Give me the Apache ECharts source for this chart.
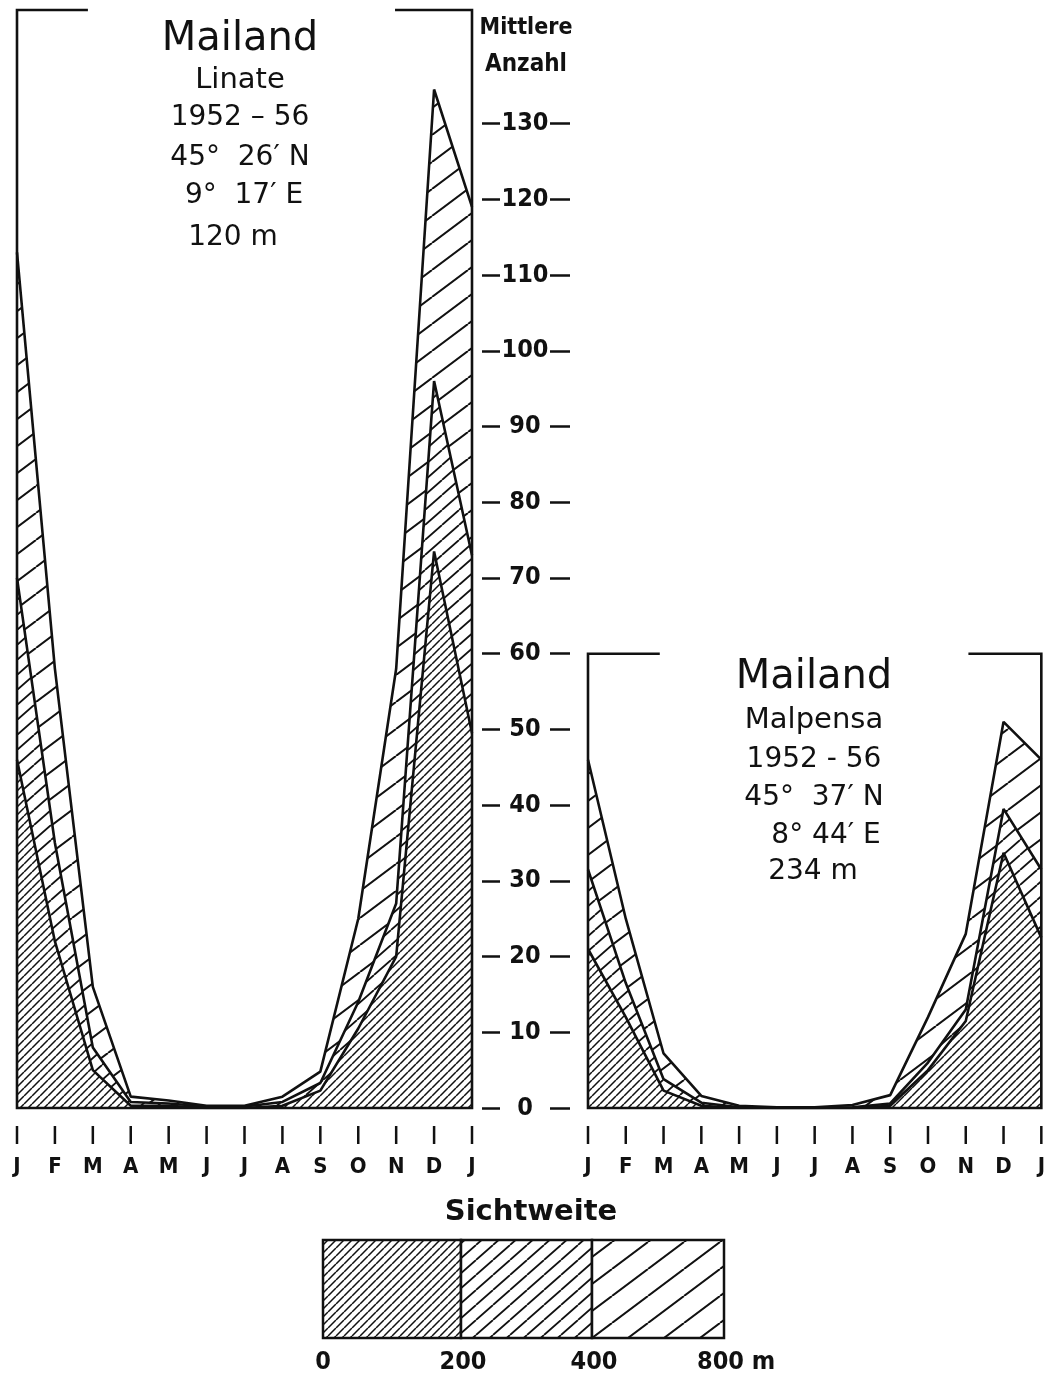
<!DOCTYPE html>
<html><head><meta charset="utf-8">
<script src="https://cdn.jsdelivr.net/npm/echarts@6/dist/echarts.min.js"></script>
<style>html,body{margin:0;padding:0;background:#fff}#c{width:1048px;height:1375px}</style>
</head><body><div id="c"></div>
<script>
// ---- data ----
const months = ['J','F','M','A','M','J','J','A','S','O','N','D','J'];
const yTicks = [0,10,20,30,40,50,60,70,80,90,100,110,120,130];
// Linate: mean number of days with visibility below 800 m / 400 m / 200 m
const linate800 = [113, 58, 16, 1.5, 1.0, 0.3, 0.3, 1.5, 4.8, 25, 58, 134.5, 119];
const linate400 = [70, 35, 8, 0.8, 0.6, 0.2, 0.2, 0.8, 3.3, 14, 27, 96, 73];
const linate200 = [46, 22, 5, 0.3, 0.3, 0, 0, 0.3, 2.3, 10.5, 20, 73.5, 49.5];
// Malpensa
const malp800 = [46, 25, 7.2, 1.6, 0.3, 0.1, 0.1, 0.4, 1.7, 12, 23, 51, 46];
const malp400 = [31.5, 16.5, 3.8, 0.7, 0.1, 0, 0, 0.1, 0.6, 6, 13, 39.5, 31.5];
const malp200 = [21, 12, 2.3, 0.3, 0, 0, 0, 0, 0.3, 5, 11.5, 33.7, 22.5];
const linateTitle = ['Mailand', 'Linate', '1952 \u2013 56', '45\u00b0  26\u2032 N', '9\u00b0  17\u2032 E', '120 m'];
const malpTitle = ['Mailand', 'Malpensa', '1952 - 56', '45\u00b0  37\u2032 N', '8\u00b0 44\u2032 E', '234 m'];
const axisTitle = ['Mittlere', 'Anzahl'];
const legendTitle = 'Sichtweite';
const legendLabels = ['0', '200', '400', '800 m'];

// ---- styling ----
const INK = '#111';
const COND = '"Liberation Sans Narrow","DejaVu Sans Condensed","DejaVu Sans",sans-serif';
const SANS = '"DejaVu Sans","Noto Sans",sans-serif';

function hatch(w, h, lw) {
  const c = document.createElement('canvas');
  c.width = w; c.height = h;
  const g = c.getContext('2d');
  g.fillStyle = '#fff'; g.fillRect(0, 0, w, h);
  g.strokeStyle = INK; g.lineWidth = lw;
  g.beginPath();
  for (const dx of [-w, 0, w]) { g.moveTo(dx, h); g.lineTo(dx + w, 0); }
  g.stroke();
  return { image: c, repeat: 'repeat' };
}
const pDense = hatch(8, 8, 1.5);
const pMid = hatch(17, 15, 1.8);
const pWide = hatch(36, 27, 2);

function mkSeries(data, gi, yi, pat) {
  return { type: 'line', xAxisIndex: gi, yAxisIndex: yi, data: data, symbol: 'none',
    lineStyle: { color: INK, width: 2.6 }, areaStyle: { color: pat, opacity: 1 },
    silent: true, animation: false };
}
function mkX(gi) {
  return { type: 'category', gridIndex: gi, data: months, boundaryGap: false,
    axisLine: { show: false },
    axisTick: { show: false },
    axisLabel: { interval: 0, margin: 18, color: INK,
      formatter: v => '{bar|}\n{m|' + v + '}',
      rich: {
        bar: { width: 2.5, height: 18, backgroundColor: INK },
        m: { fontFamily: COND, fontWeight: 'bold', fontSize: 22, lineHeight: 24, padding: [22, 0, 0, 0], color: INK }
      } },
    splitLine: { show: false } };
}

const chart = echarts.init(document.getElementById('c'), null, { renderer: 'canvas' });
const option = {
  backgroundColor: '#fff',
  animation: false,
  grid: [
    { left: 17, top: 10, width: 455, height: 1098 },
    { left: 588, top: 653.7, width: 455, height: 454.3 }
  ],
  xAxis: [mkX(0), mkX(1)],
  yAxis: [
    { type: 'value', gridIndex: 0, min: 0, max: 145, show: false },
    { type: 'value', gridIndex: 0, min: 0, max: 145, position: 'right', offset: 10,
      axisLine: { show: false },
      axisTick: { show: true, length: 18, customValues: yTicks, lineStyle: { color: INK, width: 2.5 } },
      axisLabel: { customValues: yTicks, margin: 43, align: 'center', fontFamily: COND, fontWeight: 'bold', fontSize: 25, color: INK },
      splitLine: { show: false } },
    { type: 'value', gridIndex: 0, min: 0, max: 145, position: 'right', offset: 78,
      axisLine: { show: false },
      axisTick: { show: true, length: 20, customValues: yTicks, lineStyle: { color: INK, width: 2.5 } },
      axisLabel: { show: false }, splitLine: { show: false } },
    { type: 'value', gridIndex: 1, min: 0, max: 60, show: false }
  ],
  series: [
    mkSeries(linate800, 0, 0, pWide),
    mkSeries(linate400, 0, 0, pMid),
    mkSeries(linate200, 0, 0, pDense),
    mkSeries(malp800, 1, 3, pWide),
    mkSeries(malp400, 1, 3, pMid),
    mkSeries(malp200, 1, 3, pDense)
  ]
};
chart.setOption(option);

// frames computed from the chart's own scales
function px(gi, xi, v) {
  const a = chart.convertToPixel({ gridIndex: gi }, [0, v]);
  const b = chart.convertToPixel({ gridIndex: gi }, [12, v]);
  return [a[0] + (b[0] - a[0]) * xi / 12, a[1]];
}
function frame(gi, top, gapL, gapR) {
  return { type: 'polyline', z: 100, silent: true,
    shape: { points: [px(gi, gapL, top), px(gi, 0, top), px(gi, 0, 0), px(gi, 12, 0), px(gi, 12, top), px(gi, gapR, top)] },
    style: { stroke: INK, lineWidth: 2.6, fill: null } };
}
function txt(t, x, y, size, fam, weight, align) {
  return { type: 'text', x: x, y: y, z: 100, silent: true,
    style: { text: t, fontSize: size, fontFamily: fam, fontWeight: weight || 'normal', fill: INK,
      align: align || 'center', verticalAlign: 'middle' } };
}
const g = [frame(0, 145, 1.87, 9.97), frame(1, 60, 1.9, 10.07)];
const lX = [240, 240, 240, 240, 244, 233], lY = [40, 80, 118, 158, 196, 238], lS = [40, 29, 28, 28, 28, 28];
linateTitle.forEach((t, i) => g.push(txt(t, lX[i], lY[i], lS[i], SANS)));
const rX = [814, 814, 814, 814, 826, 813], rY = [678, 720, 760, 798, 836, 872];
malpTitle.forEach((t, i) => g.push(txt(t, rX[i], rY[i], lS[i], SANS)));
g.push(txt(axisTitle[0], 526, 28, 23, COND, 'bold'));
g.push(txt(axisTitle[1], 526, 65, 24, COND, 'bold'));
g.push(txt(legendTitle, 531, 1212, 29, SANS, 'bold'));
const legX = [323, 461, 592, 724];
const pats = [pDense, pMid, pWide];
for (let i = 0; i < 3; i++) {
  g.push({ type: 'rect', z: 100, silent: true,
    shape: { x: legX[i], y: 1240, width: legX[i + 1] - legX[i], height: 98 },
    style: { fill: pats[i], stroke: INK, lineWidth: 2.5 } });
}
legendLabels.forEach((t, i) => {
  if (i === 3) g.push(txt(t, 697, 1362, 25, COND, 'bold', 'left'));
  else g.push(txt(t, legX[i] + (i === 0 ? 0 : 2), 1362, 25, COND, 'bold'));
});
chart.setOption({ graphic: g });
</script>
</body></html>
